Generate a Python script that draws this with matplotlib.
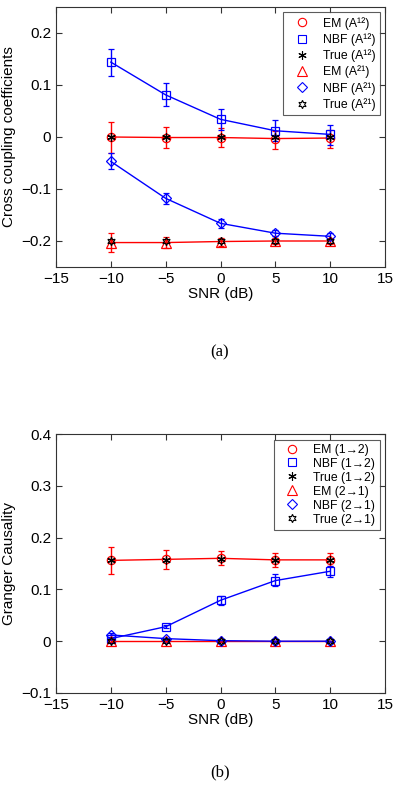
import numpy as np
import matplotlib
matplotlib.use('Agg')
import matplotlib.pyplot as plt
from matplotlib.lines import Line2D

plt.rcParams['font.family'] = ['Liberation Sans', 'DejaVu Sans']

snr = [-10, -5, 0, 5, 10]

# (a) cross coupling coefficients
em_a12 = [0.000, -0.001, -0.001, -0.003, -0.002]
em_a12_lo = [-0.030, -0.021, -0.019, -0.024, -0.022]
em_a12_hi = [0.029, 0.020, 0.017, 0.012, 0.014]
nbf_a12 = [0.144, 0.081, 0.034, 0.012, 0.005]
nbf_a12_lo = [0.117, 0.059, 0.014, -0.008, -0.015]
nbf_a12_hi = [0.170, 0.104, 0.054, 0.032, 0.024]
true_a12 = [0.0, 0.0, 0.0, 0.0, 0.0]
em_a21 = [-0.203, -0.203, -0.201, -0.200, -0.200]
em_a21_lo = [-0.221, -0.213, -0.210, -0.205, -0.206]
em_a21_hi = [-0.185, -0.193, -0.194, -0.194, -0.194]
nbf_a21 = [-0.047, -0.118, -0.166, -0.185, -0.191]
nbf_a21_lo = [-0.062, -0.129, -0.175, -0.190, -0.197]
nbf_a21_hi = [-0.030, -0.108, -0.158, -0.179, -0.185]
true_a21 = [-0.2, -0.2, -0.2, -0.2, -0.2]
labels_a = ['EM (A\u00b9\u00b2)', 'NBF (A\u00b9\u00b2)', 'True (A\u00b9\u00b2)',
            'EM (A\u00b2\u00b9)', 'NBF (A\u00b2\u00b9)', 'True (A\u00b2\u00b9)']

# (b) granger causality
em_12 = [0.156, 0.158, 0.160, 0.157, 0.157]
em_12_lo = [0.129, 0.140, 0.148, 0.143, 0.146]
em_12_hi = [0.182, 0.176, 0.174, 0.171, 0.170]
nbf_12 = [0.005, 0.028, 0.079, 0.117, 0.135]
nbf_12_lo = [0.003, 0.025, 0.069, 0.106, 0.123]
nbf_12_hi = [0.007, 0.031, 0.087, 0.129, 0.146]
true_12 = [0.156, 0.157, 0.158, 0.157, 0.157]
em_21 = [0.0, 0.0, 0.0, 0.0, 0.0]
em_21_lo = [-0.002, -0.001, -0.001, -0.001, -0.001]
em_21_hi = [0.002, 0.001, 0.001, 0.001, 0.001]
nbf_21 = [0.012, 0.005, 0.001, 0.0, 0.0]
nbf_21_lo = [0.009, 0.003, 0.000, -0.001, -0.001]
nbf_21_hi = [0.015, 0.007, 0.002, 0.001, 0.001]
true_21 = [0.0, 0.0, 0.0, 0.0, 0.0]
labels_b = ['EM (1\u21922)', 'NBF (1\u21922)', 'True (1\u21922)',
            'EM (2\u21921)', 'NBF (2\u21921)', 'True (2\u21921)']

ASTER = (6, 2, 0)
HEXA = (6, 1, 0)
mk = [('o', 'red', 6), ('s', 'blue', 6), (ASTER, 'black', 6),
      ('^', 'red', 6.5), ('D', 'blue', 5), (HEXA, 'black', 6)]


def err(v, lo, hi):
    v, lo, hi = np.array(v), np.array(lo), np.array(hi)
    return [v - lo, hi - v]


def style_ax(ax):
    ax.set_xlim(-15, 15)
    ax.set_xticks([-15, -10, -5, 0, 5, 10, 15])
    ax.set_xticklabels(['\u221215', '\u221210', '\u22125', '0', '5', '10', '15'])
    ax.tick_params(direction='in', top=True, right=True, labelsize=11, length=4, color='#333333')
    for s in ax.spines.values():
        s.set_color('#333333')
    ax.set_xlabel('SNR (dB)', fontsize=11, labelpad=1)


def add_legend(ax, labels, spacing):
    handles = [Line2D([], [], ls='none', marker=m, color=c, mec=c, mfc='none', ms=s, mew=0.8)
               for m, c, s in mk]
    leg = ax.legend(handles, labels, loc='upper right', fontsize=8.8, frameon=True, fancybox=False,
                    handlelength=2.4, borderaxespad=0.45, labelspacing=spacing, handletextpad=0.5,
                    borderpad=0.35)
    leg.get_frame().set_edgecolor('#333333')
    leg.get_frame().set_linewidth(0.8)


def draw(ax, series):
    kw = dict(capsize=2, elinewidth=1, lw=1, mfc='none', mew=0.9)
    for (v, lo, hi), (m, c, s) in zip(series, mk):
        if lo is None:
            ax.plot(snr, v, marker=m, ls='none', color=c, ms=s, mfc='none', mew=0.9, zorder=4)
        else:
            ax.errorbar(snr, v, yerr=err(v, lo, hi), marker=m, ls='-', color=c, mec=c, ms=s, **kw)


fig = plt.figure(figsize=(4.0, 7.95), dpi=100)
ax1 = fig.add_axes([56 / 400, 1 - 267 / 795, 329 / 400, 260 / 795])
ax2 = fig.add_axes([56 / 400, 1 - 693 / 795, 329 / 400, 259 / 795])

draw(ax1, [(em_a12, em_a12_lo, em_a12_hi), (nbf_a12, nbf_a12_lo, nbf_a12_hi), (true_a12, None, None),
           (em_a21, em_a21_lo, em_a21_hi), (nbf_a21, nbf_a21_lo, nbf_a21_hi), (true_a21, None, None)])
ax1.set_ylim(-0.25, 0.25)
ax1.set_yticks([-0.2, -0.1, 0, 0.1, 0.2])
ax1.set_yticklabels(['\u22120.2', '\u22120.1', '0', '0.1', '0.2'])
ax1.set_ylabel('Cross coupling coefficients', fontsize=11)
style_ax(ax1)
add_legend(ax1, labels_a, 0.28)

draw(ax2, [(em_12, em_12_lo, em_12_hi), (nbf_12, nbf_12_lo, nbf_12_hi), (true_12, None, None),
           (em_21, em_21_lo, em_21_hi), (nbf_21, nbf_21_lo, nbf_21_hi), (true_21, None, None)])
ax2.set_ylim(-0.1, 0.4)
ax2.set_yticks([-0.1, 0, 0.1, 0.2, 0.3, 0.4])
ax2.set_yticklabels(['\u22120.1', '0', '0.1', '0.2', '0.3', '0.4'])
ax2.set_ylabel('Granger Causality', fontsize=11)
style_ax(ax2)
add_legend(ax2, labels_b, 0.16)

fig.text(220 / 400, 1 - 352 / 795, '(a)', ha='center', va='center', fontsize=12, family='Liberation Serif')
fig.text(220 / 400, 1 - 772 / 795, '(b)', ha='center', va='center', fontsize=12, family='Liberation Serif')

fig.savefig('out.png', dpi=100)
